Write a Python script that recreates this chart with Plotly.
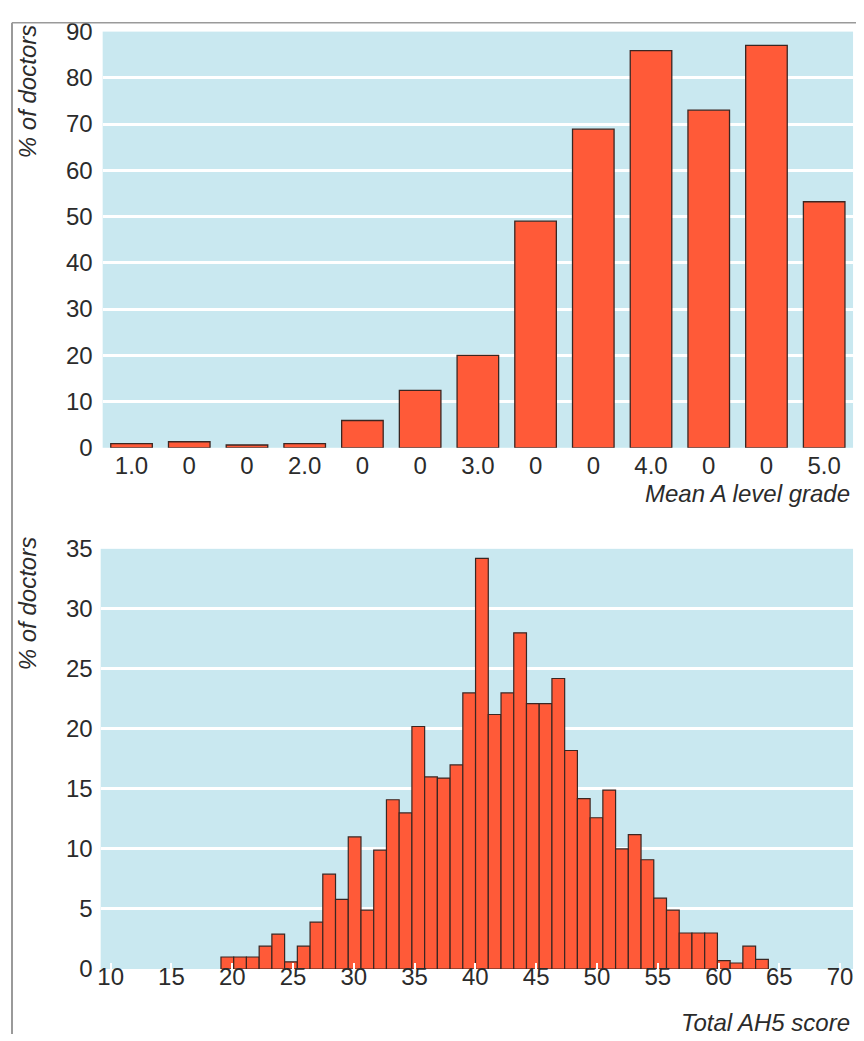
import plotly.graph_objects as go

# ---- Top chart data: Mean A level grade ----
grade_labels = ["1.0", "0", "0", "2.0", "0", "0", "3.0", "0", "0", "4.0", "0", "0", "5.0"]
grade_pct = [0.9, 1.3, 0.6, 0.9, 5.9, 12.4, 20.0, 49.0, 68.9, 85.9, 73.0, 87.0, 53.2]

# ---- Bottom chart data: Total AH5 score ----
ah5_scores = list(range(20, 63))
ah5_pct = [1.0, 1.0, 1.0, 1.9, 2.9, 0.6, 1.9, 3.9, 7.9, 5.8, 11.0, 4.9, 9.9, 14.1, 13.0,
           20.2, 16.0, 15.9, 17.0, 23.0, 34.2, 21.2, 23.0, 28.0, 22.1, 22.1, 24.2, 18.2,
           14.2, 12.6, 14.9, 10.0, 11.2, 9.1, 5.9, 4.9, 3.0, 3.0, 3.0, 0.7, 0.5, 1.9, 0.8]
ah5_ticks = list(range(10, 75, 5))

BAR = "#FF5A38"
EDGE = "#3a2622"
BG = "#C9E8F0"
TXT = "#2b2b2b"

# figure size and placement of the figure on the photographed page
W, H = 856, 1039
OX, SX = 10.0, 1.0
OY, SY = 21.4, 0.9736
X_VISIBLE = 855  # rightmost photographed column that still shows the figure


def px_x(p):
    f = (min(p, X_VISIBLE) - OX) / SX
    f = min(max(f, 1.0), W)
    return f / W


def px_y(p):
    f = (p - OY) / SY
    f = min(max(f, 0.75), H)
    return 1 - f / H


fig = go.Figure()

fig.add_trace(go.Bar(
    x=list(range(len(grade_pct))), y=grade_pct,
    marker=dict(color=BAR, line=dict(color=EDGE, width=1.3)),
    xaxis="x", yaxis="y", showlegend=False, hoverinfo="skip"))

# empty trace so the printed AH5 score axis gets its subplot
fig.add_trace(go.Scatter(x=[], y=[], xaxis="x2", yaxis="y2", showlegend=False, hoverinfo="skip"))

fig.add_trace(go.Bar(
    x=ah5_scores, y=ah5_pct, width=1.0,
    marker=dict(color=BAR, line=dict(color=EDGE, width=1.2)),
    xaxis="x3", yaxis="y2", showlegend=False, hoverinfo="skip"))

tickfont = dict(family="Liberation Sans, Arial, sans-serif", size=24, color=TXT)
titlefont = dict(family="Liberation Sans, Arial, sans-serif", size=24, color=TXT)

# bottom axis: plot spans page px 100..855; printed ticks 10 at 110 and 70 at ~842
b_left, b_right = 100, 855
t10, t70 = 110, 842
unit = (t70 - t10) / 60.0
x2_range = [10 - (t10 - b_left) / unit, 70 + (b_right - t70) / unit]
# bars: first bar's left edge at page px 220.7, last bar's right edge at 770
bar_unit = (770 - 220.7) / len(ah5_scores)
x3_range = [ah5_scores[0] - 0.5 - (220.7 - b_left) / bar_unit,
            ah5_scores[-1] + 0.5 + (b_right - 770) / bar_unit]

fig.update_layout(
    width=W, height=H,
    margin=dict(l=0, r=0, t=0, b=0),
    paper_bgcolor="white",
    plot_bgcolor=BG,
    bargap=0.28,
    xaxis=dict(domain=[px_x(102), px_x(856)], anchor="y",
               range=[-0.5, len(grade_pct) - 0.5],
               tickmode="array", tickvals=list(range(len(grade_labels))), ticktext=grade_labels,
               showgrid=False, zeroline=False, showline=False, ticks="",
               tickfont=tickfont, ticklabelstandoff=1, fixedrange=True),
    yaxis=dict(domain=[px_y(447), px_y(31)], anchor="x",
               range=[0, 90], dtick=10, tick0=0,
               showgrid=True, gridcolor="white", gridwidth=2.5,
               zeroline=False, showline=False, ticks="",
               tickfont=tickfont, ticklabelstandoff=9, fixedrange=True),
    xaxis2=dict(domain=[px_x(b_left), px_x(b_right)], anchor="y2",
                range=x2_range,
                tickmode="array", tickvals=ah5_ticks,
                showgrid=False, zeroline=False, showline=False,
                ticks="inside", ticklen=6, tickwidth=2, tickcolor="white",
                tickfont=tickfont, ticklabelstandoff=-9, fixedrange=True),
    xaxis3=dict(domain=[px_x(b_left), px_x(b_right)], anchor="y2", overlaying="x2",
                range=x3_range, visible=False, fixedrange=True),
    yaxis2=dict(domain=[px_y(968), px_y(548)], anchor="x2",
                range=[0, 35], dtick=5, tick0=0,
                showgrid=True, gridcolor="white", gridwidth=2.5,
                zeroline=False, showline=False, ticks="",
                tickfont=tickfont, ticklabelstandoff=7, fixedrange=True),
)

annotations = [
    dict(text="<i>% of doctors</i>", x=px_x(26), y=px_y(15), xref="paper", yref="paper",
         xanchor="center", yanchor="top", textangle=-90, showarrow=False, font=titlefont),
    dict(text="<i>% of doctors</i>", x=px_x(26), y=px_y(534), xref="paper", yref="paper",
         xanchor="center", yanchor="top", textangle=-90, showarrow=False, font=titlefont),
    dict(text="<i>Mean A level grade</i>", x=px_x(854), y=px_y(493), xref="paper", yref="paper",
         xanchor="right", yanchor="middle", showarrow=False, font=titlefont),
    dict(text="<i>Total AH5 score</i>", x=px_x(854), y=px_y(1021), xref="paper", yref="paper",
         xanchor="right", yanchor="middle", showarrow=False, font=titlefont),
]
fig.update_layout(annotations=annotations)

# outer frame (left and top rules)
top_rule = px_y(10)
fig.update_layout(shapes=[
    dict(type="line", xref="paper", yref="paper", x0=px_x(10), x1=px_x(10), y0=0, y1=top_rule,
         line=dict(color="#9a9a9a", width=2)),
    dict(type="line", xref="paper", yref="paper", x0=px_x(10), x1=1, y0=top_rule, y1=top_rule,
         line=dict(color="#9a9a9a", width=1.5)),
])

fig.write_html("out.html")
